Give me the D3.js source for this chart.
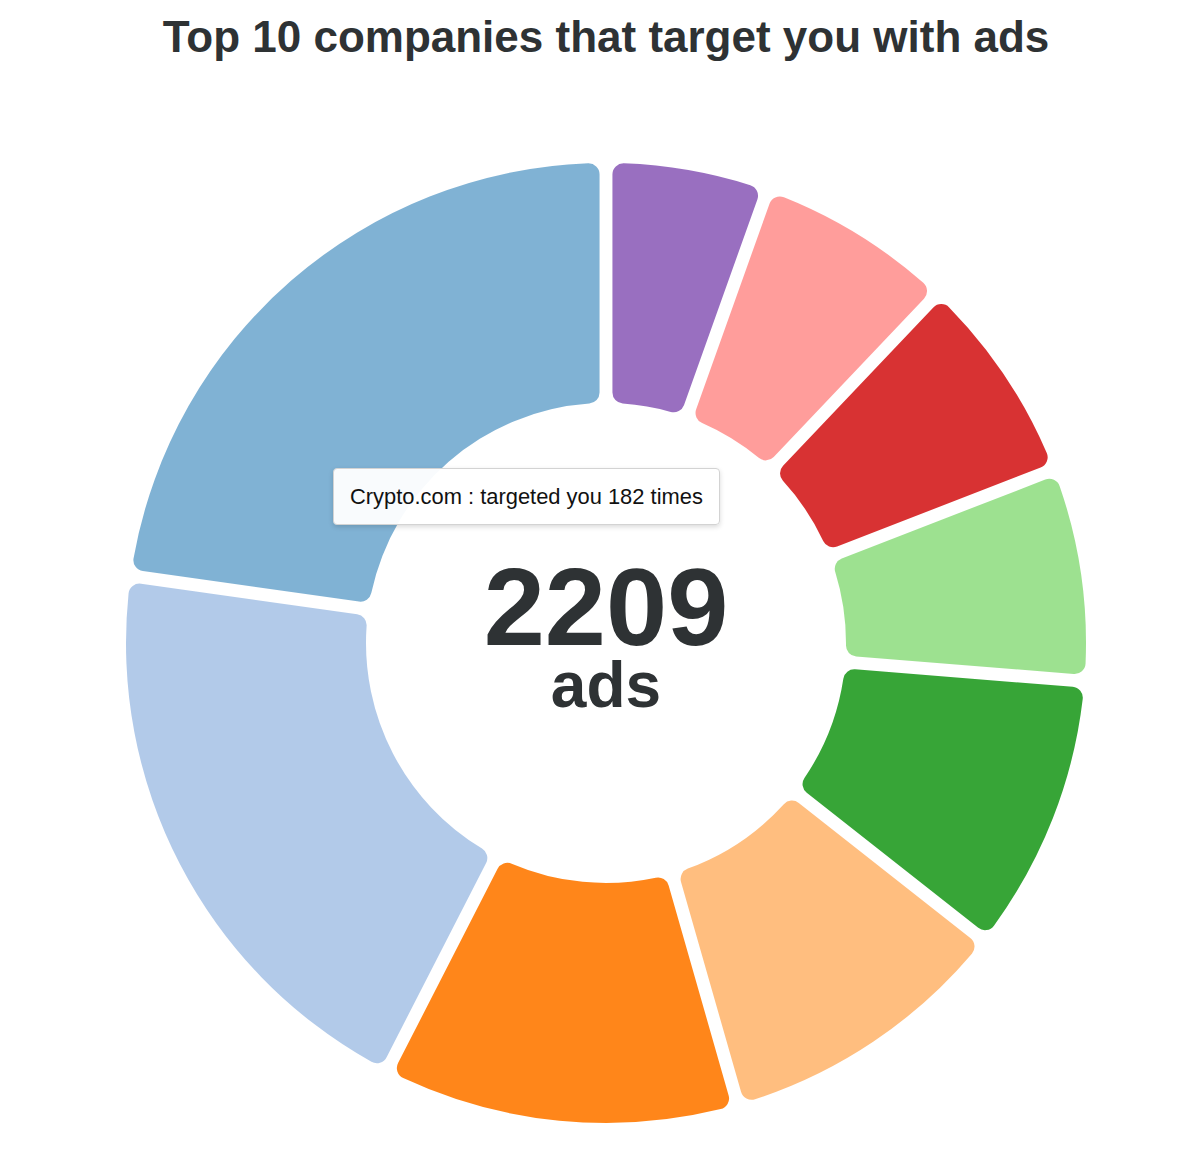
<!DOCTYPE html>
<html>
<head>
<meta charset="utf-8">
<script src="https://d3js.org/d3.v7.min.js"></script>
<style>
  html, body { margin: 0; padding: 0; background: #fff; }
  #wrap { position: relative; width: 1198px; height: 1162px; overflow: hidden; }
  .tooltip {
    position: absolute;
    font-family: "Liberation Sans", Arial, Helvetica, sans-serif;
    font-size: 21.9px;
    color: #111;
    background: rgba(255,255,255,0.95);
    border: 1px solid #d3d3d3;
    border-radius: 4px;
    box-shadow: 0 2px 5px rgba(0,0,0,0.15);
    padding: 15px 16px 15px 16px;
    white-space: nowrap;
    line-height: 25px;
  }
</style>
</head>
<body>
<div id="wrap"></div>
<script>
// ---- data ----
const titleText = "Top 10 companies that target you with ads";
const companies = ["Company 1", "Company 2", "Company 3", "Company 4", "Company 5",
                   "Company 6", "Company 7", "Company 8", "Company 9"];
const adCounts  = [512, 442, 265, 219, 205, 155, 152, 143, 116];
const colors    = ["#1f77b4", "#aec7e8", "#ff7f0e", "#ffbb78", "#2ca02c",
                   "#98df8a", "#d62728", "#ff9896", "#9467bd"];
const hoveredIndex = 0;
const tooltipCompany = "Crypto.com";
const tooltipCount = 182;
const unitLabel = "ads";

// ---- layout ----
const W = 1198, H = 1162;
const cx = 606, cy = 643;
const outerR = 480, innerR = 240;

const wrap = d3.select("#wrap");
const svg = wrap.append("svg").attr("width", W).attr("height", H);

svg.append("text")
  .attr("x", cx).attr("y", 52)
  .attr("text-anchor", "middle")
  .style("font-family", '"Liberation Sans", Arial, Helvetica, sans-serif')
  .style("font-weight", "bold")
  .style("font-size", "44px")
  .style("fill", "#2e3234")
  .text(titleText);

const data = companies.map((c, i) => ({ company: c, value: adCounts[i], color: colors[i], i }));

const pie = d3.pie()
  .sort(null)
  .value(d => d.value)
  .startAngle(0)
  .endAngle(-2 * Math.PI)
  .padAngle(0.024);

const arc = d3.arc()
  .innerRadius(innerR)
  .outerRadius(outerR)
  .cornerRadius(11);

const g = svg.append("g").attr("transform", `translate(${cx},${cy})`);

g.selectAll("path.slice")
  .data(pie(data))
  .join("path")
  .attr("class", "slice")
  .attr("d", arc)
  .attr("fill", d => d.data.color)
  .attr("fill-opacity", d => d.data.i === hoveredIndex ? 0.57 : 0.95);

const total = d3.sum(adCounts);

const center = g.append("text")
  .attr("text-anchor", "middle")
  .style("font-family", '"Liberation Sans", Arial, Helvetica, sans-serif')
  .style("font-weight", "bold")
  .style("fill", "#2e3234");

center.append("tspan")
  .attr("x", 0).attr("y", 2)
  .style("font-size", "110px")
  .text(total);

center.append("tspan")
  .attr("x", 0).attr("y", 64)
  .style("font-size", "64px")
  .text(unitLabel);

wrap.append("div")
  .attr("class", "tooltip")
  .style("left", "333px")
  .style("top", "468px")
  .text(`${tooltipCompany} : targeted you ${tooltipCount} times`);
</script>
</body>
</html>
